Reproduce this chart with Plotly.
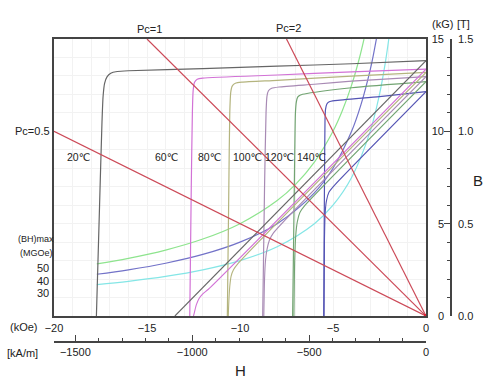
import plotly.graph_objects as go

# ---------------- data ----------------
temps = ["20℃", "60℃", "80℃", "100℃", "120℃", "140℃"]
temp_colors = ["#666666", "#d272d6", "#b4b47e", "#a88ab4", "#72a472", "#5454b4"]

# intrinsic (J) curves, H in kOe, J in kG
j_h = [
    [-17.72, -17.55, -17.42, -17.36, -17.28, -17.15, -16.95, -16.6, -16.0, -12.0, -8.0, -4.0, 0],
    [-12.70, -12.62, -12.56, -12.52, -12.45, -12.3, -12.0, -8.0, -4.0, 0],
    [-10.68, -10.60, -10.55, -10.50, -10.42, -10.25, -9.9, -8.0, -4.0, 0],
    [-8.78, -8.68, -8.60, -8.55, -8.47, -8.30, -7.9, -6.0, -4.0, 0],
    [-7.17, -7.08, -7.02, -6.97, -6.90, -6.75, -6.4, -4.0, 0],
    [-5.50, -5.46, -5.43, -5.40, -5.33, -5.20, -4.9, -2.5, 0],
]
j_b = [
    [0, 6.0, 10.5, 11.9, 12.6, 12.95, 13.15, 13.24, 13.28, 13.40, 13.53, 13.66, 13.83],
    [0, 7.0, 11.0, 12.2, 12.65, 12.82, 12.88, 13.05, 13.22, 13.37],
    [0, 7.0, 11.0, 12.1, 12.45, 12.60, 12.66, 12.76, 12.99, 13.19],
    [0, 7.0, 11.0, 11.9, 12.20, 12.33, 12.40, 12.55, 12.72, 12.96],
    [0, 7.0, 11.0, 11.6, 11.85, 11.97, 12.05, 12.36, 12.69],
    [0, 7.0, 10.6, 11.2, 11.48, 11.60, 11.66, 11.88, 12.15],
]

# normal (B) curves
n_h = [
    [0, -13.5],
    [0, -11.7, -12.0, -12.2, -12.35, -12.45, -12.5],
    [0, -10.1, -10.35, -10.48, -10.55, -10.6, -10.63],
    [0, -8.2, -8.42, -8.55, -8.63, -8.68, -8.72],
    [0, -6.5, -6.78, -6.92, -7.0, -7.06, -7.1],
    [0, -4.95, -5.22, -5.35, -5.42, -5.46, -5.48],
]
n_b = [
    [13.83, 0],
    [13.37, 1.45, 1.2, 0.95, 0.6, 0.2, 0],
    [13.19, 2.85, 2.5, 2.15, 1.6, 0.8, 0],
    [12.96, 4.5, 4.1, 3.6, 3.0, 2.0, 0],
    [12.69, 6.0, 5.6, 5.1, 4.4, 3.0, 0],
    [12.15, 7.05, 6.7, 6.25, 5.6, 4.0, 0],
]

# (BH)max iso-energy curves
bh_labels = ["50", "40", "30"]
bh_colors = ["#8ee48e", "#7272c8", "#84e6e6"]
bh_h = [
    [-17.7, -16, -14, -12, -10, -8, -7, -6, -5, -4.5, -4, -3.6, -3.333],
    [-17.7, -16, -14, -12, -10, -8, -6, -5, -4, -3.5, -3, -2.8, -2.667],
    [-17.7, -16, -14, -12, -10, -8, -6, -5, -4, -3, -2.5, -2.2, -2.0],
]
bh_b = [
    [2.825, 3.125, 3.571, 4.167, 5.0, 6.25, 7.143, 8.333, 10.0, 11.11, 12.5, 13.89, 15.0],
    [2.26, 2.5, 2.857, 3.333, 4.0, 5.0, 6.667, 8.0, 10.0, 11.43, 13.33, 14.29, 15.0],
    [1.695, 1.875, 2.143, 2.5, 3.0, 3.75, 5.0, 6.0, 7.5, 10.0, 12.0, 13.64, 15.0],
]

# permeance coefficient load lines
pc_labels = ["Pc=0.5", "Pc=1", "Pc=2"]
pc_h = [[0, -20], [0, -15], [0, -7.5]]
pc_b = [[0, 10], [0, 15], [0, 15]]
pc_color = "#cc4a58"

koe_range = [-20, 0]
kg_range = [0, 15]
koe_ticks = [-20, -15, -10, -5, 0]
kam_ticks = [-1500, -1000, -500, 0]
kg_ticks = [0, 5, 10, 15]
t_ticks = [0, 0.5, 1.0, 1.5]
t_ticktext = ["0.0", "0.5", "1.0", "1.5"]
KAM_PER_KOE = 79.577
T_PER_KG = 0.1

# ---------------- figure ----------------
W, H = 500, 380
ML, MR, MT, MB = 54, 49, 39, 38
PLOT_R, PLOT_B = 426, 316
pw, ph = W - ML - MR, H - MT - MB
FONT = "Liberation Sans, Arial, DejaVu Sans, Noto Sans CJK SC"
INK = "#444444"

fig = go.Figure()

for hx, by, c in zip(bh_h, bh_b, bh_colors):
    fig.add_trace(go.Scatter(x=hx, y=by, mode="lines", line=dict(color=c, width=1.2, shape="spline"),
                             hoverinfo="skip", showlegend=False))

for hx, jy, c in zip(j_h, j_b, temp_colors):
    fig.add_trace(go.Scatter(x=hx, y=jy, mode="lines", line=dict(color=c, width=1.2, shape="spline", smoothing=0.6),
                             hoverinfo="skip", showlegend=False))
for hx, by, c in zip(n_h, n_b, temp_colors):
    fig.add_trace(go.Scatter(x=hx, y=by, mode="lines", line=dict(color=c, width=1.1, shape="spline", smoothing=0.6),
                             hoverinfo="skip", showlegend=False))

for hx, by in zip(pc_h, pc_b):
    fig.add_trace(go.Scatter(x=hx, y=by, mode="lines", line=dict(color=pc_color, width=1.2),
                             hoverinfo="skip", showlegend=False))
fig.add_trace(go.Scatter(x=[pc_h[0][0]], y=[pc_b[0][0]], mode="markers",
                         marker=dict(color="#dd2233", size=4, symbol="square"),
                         hoverinfo="skip", showlegend=False, cliponaxis=False))

# transparent carrier traces so the secondary unit axes are drawn
carrier = dict(mode="lines", opacity=0, line=dict(width=0), hoverinfo="skip", showlegend=False)
fig.add_trace(go.Scatter(x=[v * KAM_PER_KOE for v in koe_range], y=kg_range, xaxis="x2", yaxis="y2", **carrier))
fig.add_trace(go.Scatter(x=koe_range, y=[v * T_PER_KG for v in kg_range], xaxis="x", yaxis="y3", **carrier))
fig.add_trace(go.Scatter(x=koe_range, y=kg_range, xaxis="x", yaxis="y4", **carrier))

axis_line = dict(color=INK, width=1.5)

fig.update_layout(
    width=W, height=H,
    margin=dict(l=ML, r=MR, t=MT, b=MB, pad=0),
    paper_bgcolor="white", plot_bgcolor="white",
    font=dict(family=FONT, size=11, color="#222222"),
    xaxis=dict(
        domain=[0, (PLOT_R - ML) / pw], range=koe_range,
        tickvals=koe_ticks, ticks="", showline=True, mirror=True,
        linecolor=axis_line["color"], linewidth=axis_line["width"],
        showgrid=False, zeroline=False, ticklabelstandoff=1,
        minor=dict(dtick=1, showgrid=True, gridcolor="#f2f2f2", gridwidth=1),
    ),
    yaxis=dict(
        domain=[(H - MB - PLOT_B) / ph, 1], range=kg_range,
        showticklabels=False, ticks="", showline=True, mirror=True,
        linecolor=axis_line["color"], linewidth=axis_line["width"],
        dtick=1, showgrid=True, gridcolor="#f2f2f2", zeroline=False,
    ),
    xaxis2=dict(
        overlaying="x", anchor="free", position=0, side="bottom",
        range=[v * KAM_PER_KOE for v in koe_range], tickvals=kam_ticks,
        ticks="inside", ticklen=6, tickcolor=INK, tickwidth=1.3,
        minor=dict(dtick=100, ticks="inside", ticklen=3, tickcolor=INK, tickwidth=1.3),
        showline=True, linecolor=axis_line["color"], linewidth=axis_line["width"],
        showgrid=False, zeroline=False,
    ),
    yaxis2=dict(
        overlaying="y", anchor="free", position=1, side="right",
        range=kg_range, tickvals=kg_ticks, showticklabels=False,
        ticks="inside", ticklen=6, tickcolor=INK, tickwidth=1.3,
        minor=dict(dtick=1, ticks="inside", ticklen=3, tickcolor=INK, tickwidth=1.3),
        showline=True, linecolor=axis_line["color"], linewidth=axis_line["width"],
        showgrid=False, zeroline=False,
    ),
    yaxis3=dict(
        overlaying="y", anchor="free", position=1, side="right",
        range=[v * T_PER_KG for v in kg_range], tickvals=t_ticks, ticktext=t_ticktext,
        ticks="", showline=False, showgrid=False, zeroline=False, ticklabelstandoff=6,
    ),
    yaxis4=dict(
        overlaying="y", anchor="free", position=(446 - ML) / pw, side="left",
        range=kg_range, tickvals=kg_ticks,
        ticks="", showline=False, showgrid=False, zeroline=False, ticklabelstandoff=2,
    ),
)


def px(x, y):
    return (x - ML) / pw, (H - MB - y) / ph


texts = [
    ("Pc=1", 149, 29, 11), ("Pc=2", 288, 28, 11), ("Pc=0.5", 32, 131, 11),
    ("(BH)max", 36, 239, 9), ("(MGOe)", 36, 253, 9),
    ("(kOe)", 24, 327, 11), ("[kA/m]", 22, 353, 11),
    ("H", 240, 370, 15), ("B", 478, 180, 15),
    ("(kG)", 442, 24, 11), ("[T]", 463, 24, 11),
]
for t, xx in zip(temps, [78, 166, 209, 247, 279, 311]):
    texts.append((t, xx, 157, 10.5))
for t, yy in zip(bh_labels, [268, 280.5, 293]):
    texts.append((t, 43, yy, 11))

for t, x, y, s in texts:
    ax, ay = px(x, y)
    fig.add_annotation(text=t, x=ax, y=ay, xref="paper", yref="paper", showarrow=False,
                       xanchor="center", yanchor="middle", borderpad=0,
                       font=dict(size=s, color="#222222"))

fig.write_html("out.html", config={"displayModeBar": False},
               post_script="document.body.style.margin='0px';")
